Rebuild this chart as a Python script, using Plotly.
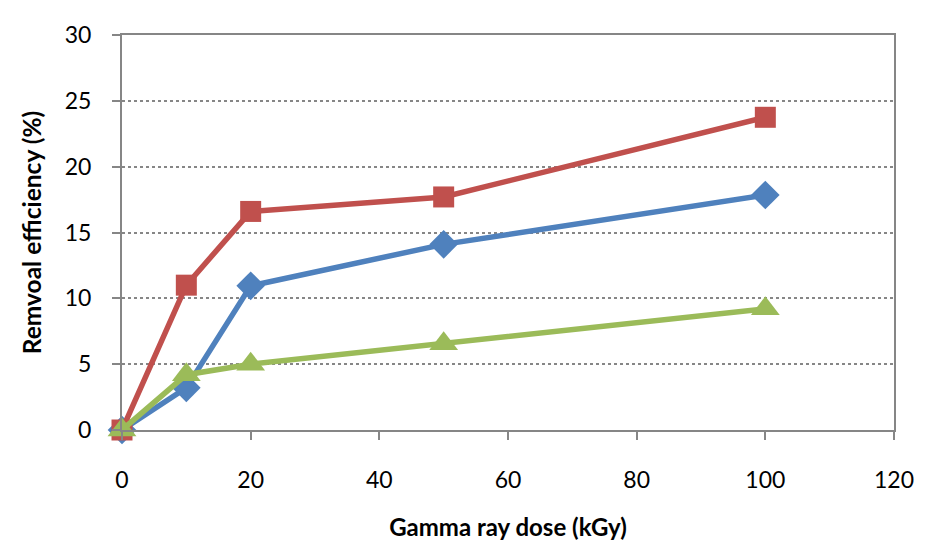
import plotly.graph_objects as go

dose = [0, 10, 20, 50, 100]
series_blue = [0, 3.2, 10.95, 14.1, 17.85]
series_red = [0, 11.0, 16.6, 17.7, 23.75]
series_green = [0, 4.2, 5.0, 6.55, 9.2]

x_ticks = [0, 20, 40, 60, 80, 100, 120]
y_ticks = [0, 5, 10, 15, 20, 25, 30]

FONT = "Lato"
fig = go.Figure()
fig.add_trace(go.Scatter(x=dose, y=series_blue, mode="lines+markers",
                         line=dict(color="#4F81BD", width=5.5),
                         marker=dict(symbol="diamond", size=22, color="#4F81BD"),
                         cliponaxis=False, showlegend=False))
fig.add_trace(go.Scatter(x=dose, y=series_red, mode="lines+markers",
                         line=dict(color="#C0504D", width=5.5),
                         marker=dict(symbol="square", size=21, color="#C0504D"),
                         cliponaxis=False, showlegend=False))
fig.add_trace(go.Scatter(x=dose, y=series_green, mode="lines+markers",
                         line=dict(color="#9BBB59", width=5.5),
                         marker=dict(symbol="triangle-up", size=25, color="#9BBB59"),
                         cliponaxis=False, showlegend=False))

fig.update_layout(
    width=940, height=557,
    margin=dict(l=114, r=54, t=19, b=135),
    paper_bgcolor="white", plot_bgcolor="white",
    font=dict(family=FONT, color="black", size=23),
    xaxis=dict(range=[0, 120], tickvals=x_ticks, showgrid=False, zeroline=False,
               showline=True, mirror=True, linecolor="#868686", linewidth=2,
               ticks="outside", ticklen=8, tickcolor="#868686", tickwidth=2,
               ticklabelstandoff=20,
               title=dict(text="<b>Gamma ray dose (kGy)</b>", font=dict(size=24), standoff=28)),
    yaxis=dict(range=[0, 30], tickvals=y_ticks, showgrid=True, gridcolor="#868686",
               griddash="dot", gridwidth=1.5, zeroline=False,
               showline=True, mirror=True, linecolor="#868686", linewidth=2,
               ticks="outside", ticklen=8, tickcolor="#868686", tickwidth=2,
               ticklabelstandoff=16,
               title=dict(text="<b>Remvoal efficiency (%)</b>", font=dict(size=24.5), standoff=16)),
)
fig.write_html("out.html")
